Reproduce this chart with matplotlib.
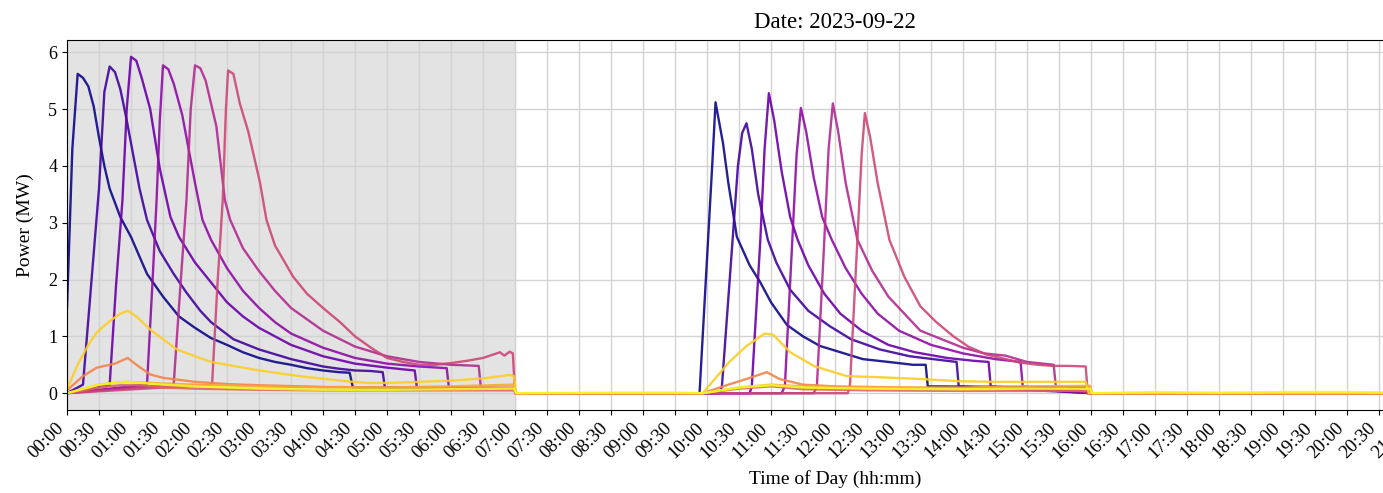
import numpy as np
import pandas as pd
import matplotlib
matplotlib.use("Agg")
import matplotlib.pyplot as plt
import matplotlib.dates as mdates

plt.rcParams['font.family'] = ['Liberation Serif', 'DejaVu Serif']

# --- datos (hora "HH:MM", potencia en MW) ---
fecha = "2023-09-22"

times_0 = ["00:00", "00:05", "00:10", "00:15", "00:20", "00:25", "00:30", "00:35", "00:40", "00:50",
           "01:00", "01:15", "01:30", "01:45", "02:00", "02:15", "02:30", "02:45", "03:00", "03:15",
           "03:30", "03:45", "04:00", "04:15", "04:25", "04:28", "05:30", "06:30", "06:59", "07:01",
           "09:53", "10:01", "10:05", "10:08", "10:15", "10:20", "10:28", "10:40", "10:50", "11:00",
           "11:15", "11:30", "11:46", "12:00", "12:26", "12:50", "13:13", "13:25", "13:27", "15:58",
           "16:00", "24:00"]
power_0 = [1.5, 4.3, 5.62, 5.55, 5.4, 5.05, 4.5, 4.0, 3.6, 3.1,
           2.75, 2.1, 1.7, 1.35, 1.15, 0.97, 0.85, 0.72, 0.62, 0.55,
           0.5, 0.44, 0.4, 0.37, 0.36, 0.1, 0.09, 0.08, 0.08, 0.0,
           0.0, 2.7, 4.05, 5.12, 4.4, 3.7, 2.75, 2.25, 1.95, 1.6,
           1.2, 1.0, 0.83, 0.75, 0.6, 0.55, 0.5, 0.5, 0.12, 0.1,
           0.0, 0.0]

times_1 = ["00:00", "00:15", "00:20", "00:25", "00:30", "00:35", "00:40", "00:45", "00:50", "00:55",
           "01:00", "01:08", "01:15", "01:27", "01:40", "01:52", "02:05", "02:15", "02:36", "03:00",
           "03:30", "04:00", "04:15", "04:30", "04:45", "04:56", "04:58", "06:59", "07:01", "10:12",
           "10:14", "10:24", "10:29", "10:33", "10:37", "10:42", "10:48", "10:57", "11:05", "11:18",
           "11:35", "11:55", "12:15", "12:42", "13:10", "13:45", "13:54", "13:56", "16:00", "24:00"]
power_1 = [0.0, 0.15, 1.3, 2.45, 3.6, 5.3, 5.75, 5.65, 5.35, 4.9,
           4.4, 3.6, 3.05, 2.5, 2.1, 1.77, 1.45, 1.25, 0.95, 0.77,
           0.6, 0.47, 0.43, 0.4, 0.39, 0.37, 0.1, 0.08, 0.0, 0.0,
           0.12, 2.7, 4.0, 4.58, 4.75, 4.3, 3.5, 2.7, 2.3, 1.82,
           1.45, 1.18, 0.95, 0.77, 0.65, 0.57, 0.55, 0.12, 0.0, 0.0]

times_2 = ["00:00", "00:40", "00:46", "00:52", "00:56", "01:00", "01:05", "01:10", "01:18", "01:27",
           "01:37", "01:45", "02:00", "02:15", "02:30", "02:45", "03:00", "03:30", "04:00", "04:30",
           "05:00", "05:15", "05:26", "05:28", "06:59", "07:01", "10:40", "10:42", "10:50", "10:54",
           "10:58", "11:03", "11:10", "11:18", "11:25", "11:35", "11:50", "12:05", "12:25", "12:50",
           "13:15", "13:45", "14:10", "14:24", "14:26", "16:00", "24:00"]
power_2 = [0.0, 0.15, 1.9, 3.4, 5.0, 5.92, 5.85, 5.55, 5.0, 3.95,
           3.1, 2.75, 2.3, 1.95, 1.6, 1.35, 1.15, 0.85, 0.65, 0.52,
           0.45, 0.42, 0.4, 0.1, 0.08, 0.0, 0.0, 0.12, 2.7, 4.3,
           5.28, 4.8, 3.9, 3.1, 2.7, 2.25, 1.75, 1.4, 1.1, 0.85,
           0.72, 0.62, 0.57, 0.55, 0.12, 0.0, 0.0]

times_3 = ["00:00", "01:15", "01:20", "01:24", "01:27", "01:30", "01:35", "01:40", "01:48", "01:55",
           "02:00", "02:07", "02:15", "02:30", "02:45", "03:00", "03:15", "03:30", "04:00", "04:30",
           "05:00", "05:30", "05:56", "05:58", "06:59", "07:01", "11:10", "11:13", "11:20", "11:24",
           "11:28", "11:33", "11:40", "11:48", "11:57", "12:10", "12:25", "12:40", "13:00", "13:30",
           "14:00", "14:30", "14:54", "14:56", "16:00", "24:00"]
power_3 = [0.0, 0.15, 1.9, 3.4, 4.8, 5.77, 5.7, 5.45, 4.9, 4.2,
           3.7, 3.05, 2.7, 2.2, 1.8, 1.5, 1.25, 1.05, 0.8, 0.62,
           0.52, 0.47, 0.44, 0.1, 0.08, 0.0, 0.0, 0.12, 2.7, 4.2,
           5.02, 4.6, 3.8, 3.1, 2.7, 2.2, 1.75, 1.4, 1.1, 0.85,
           0.7, 0.6, 0.55, 0.12, 0.0, 0.0]

times_4 = ["00:00", "01:40", "01:46", "01:52", "01:56", "02:00", "02:05", "02:10", "02:20", "02:28",
           "02:33", "02:45", "03:00", "03:15", "03:30", "04:00", "04:30", "05:00", "05:30", "06:00",
           "06:26", "06:28", "06:59", "07:01", "11:40", "11:43", "11:50", "11:54", "11:58", "12:03",
           "12:10", "12:21", "12:35", "12:50", "13:05", "13:20", "13:40", "14:00", "14:20", "14:40",
           "15:00", "15:25", "15:27", "16:00", "24:00"]
power_4 = [0.0, 0.15, 1.8, 3.4, 5.0, 5.77, 5.72, 5.5, 4.7, 3.4,
           3.05, 2.55, 2.15, 1.8, 1.5, 1.1, 0.82, 0.65, 0.55, 0.5,
           0.48, 0.1, 0.08, 0.0, 0.0, 0.12, 2.7, 4.3, 5.1, 4.6,
           3.7, 2.7, 2.15, 1.7, 1.4, 1.1, 0.95, 0.8, 0.7, 0.66,
           0.55, 0.5, 0.12, 0.0, 0.0]

times_5 = ["00:00", "02:16", "02:21", "02:26", "02:29", "02:31", "02:36", "02:42", "02:50", "03:01",
           "03:07", "03:15", "03:32", "03:45", "04:00", "04:16", "04:30", "04:45", "05:00", "05:15",
           "05:30", "05:45", "06:00", "06:15", "06:30", "06:46", "06:50", "06:55", "06:58", "07:00",
           "12:12", "12:14", "12:21", "12:25", "12:28", "12:33", "12:40", "12:51", "13:05", "13:20",
           "13:35", "13:51", "14:05", "14:22", "14:40", "14:53", "15:10", "15:24", "15:40", "15:55",
           "15:57", "24:00"]
power_5 = [0.0, 0.15, 1.9, 3.4, 5.0, 5.68, 5.62, 5.1, 4.6, 3.7,
           3.05, 2.6, 2.05, 1.75, 1.5, 1.25, 1.0, 0.8, 0.62, 0.55,
           0.5, 0.5, 0.53, 0.57, 0.62, 0.72, 0.66, 0.73, 0.7, 0.0,
           0.0, 0.12, 2.7, 4.2, 4.93, 4.5, 3.7, 2.7, 2.05, 1.53,
           1.25, 1.0, 0.82, 0.68, 0.6, 0.54, 0.5, 0.48, 0.48, 0.47,
           0.0, 0.0]

times_6 = ["00:00", "00:30", "00:50", "01:10", "01:30", "02:00", "03:00", "04:00", "05:00", "06:00",
           "06:59", "07:01", "09:56", "10:30", "11:00", "11:30", "12:30", "14:00", "15:59", "16:01",
           "24:00"]
power_6 = [0.0, 0.1, 0.14, 0.14, 0.1, 0.08, 0.06, 0.05, 0.05, 0.05,
           0.05, 0.0, 0.0, 0.08, 0.12, 0.07, 0.05, 0.04, 0.04, 0.0,
           0.0]

times_7 = ["00:00", "00:15", "00:28", "00:45", "00:57", "01:05", "01:18", "01:30", "02:00", "02:30",
           "03:00", "04:00", "05:00", "06:00", "06:59", "07:01", "09:56", "10:20", "10:37", "10:56",
           "11:08", "11:30", "12:00", "13:00", "14:00", "15:00", "15:59", "16:01", "24:00"]
power_7 = [0.05, 0.3, 0.45, 0.52, 0.62, 0.5, 0.33, 0.27, 0.2, 0.16,
           0.14, 0.11, 0.1, 0.1, 0.1, 0.0, 0.0, 0.15, 0.25, 0.37,
           0.25, 0.15, 0.12, 0.1, 0.08, 0.08, 0.08, 0.0, 0.0]

times_8 = ["00:00", "00:30", "00:55", "01:30", "02:00", "03:00", "04:00", "05:00", "06:00", "06:59",
           "07:01", "09:56", "10:30", "11:00", "11:30", "12:30", "14:00", "15:00", "15:59", "16:01",
           "24:00"]
power_8 = [0.0, 0.15, 0.2, 0.17, 0.15, 0.12, 0.1, 0.1, 0.12, 0.15,
           0.0, 0.0, 0.1, 0.15, 0.12, 0.1, 0.1, 0.12, 0.13, 0.0,
           0.0]

times_9 = ["00:00", "00:10", "00:20", "00:28", "00:40", "00:50", "00:57", "01:05", "01:18", "01:30",
           "01:43", "02:00", "02:15", "02:36", "03:00", "03:38", "04:16", "04:41", "05:00", "05:30",
           "06:00", "06:30", "06:55", "06:59", "07:01", "09:56", "10:05", "10:21", "10:37", "10:54",
           "11:02", "11:18", "11:40", "12:11", "12:42", "13:20", "13:57", "14:30", "15:00", "15:30",
           "15:55", "15:58", "24:00"]
power_9 = [0.07, 0.5, 0.85, 1.07, 1.27, 1.4, 1.45, 1.35, 1.12, 0.95,
           0.77, 0.65, 0.55, 0.48, 0.4, 0.3, 0.22, 0.18, 0.18, 0.2,
           0.22, 0.26, 0.32, 0.3, 0.0, 0.0, 0.2, 0.55, 0.83, 1.05,
           1.03, 0.72, 0.48, 0.3, 0.28, 0.25, 0.21, 0.2, 0.2, 0.2,
           0.2, 0.0, 0.0]

times_10 = ["00:00", "00:30", "00:55", "01:30", "02:00", "03:00", "04:00", "05:00", "06:00", "06:59",
            "07:01", "08:30", "09:30", "09:56", "10:30", "11:00", "11:30", "12:30", "14:00", "15:00",
            "15:59", "16:01", "17:00", "18:00", "19:00", "20:00", "21:00", "22:00", "23:00", "24:00"]
power_10 = [0.0, 0.15, 0.2, 0.15, 0.12, 0.08, 0.06, 0.06, 0.07, 0.08,
            0.0, 0.01, 0.01, 0.0, 0.1, 0.14, 0.1, 0.08, 0.07, 0.08,
            0.08, 0.0, 0.02, 0.01, 0.02, 0.02, 0.01, 0.02, 0.01, 0.02]

series_times = [times_0, times_1, times_2, times_3, times_4, times_5,
                times_6, times_7, times_8, times_9, times_10]
series_power = [power_0, power_1, power_2, power_3, power_4, power_5,
                power_6, power_7, power_8, power_9, power_10]

base = pd.Timestamp(fecha)


def a_fecha(horas):
    return base + pd.to_timedelta([h + ":00" for h in horas])


# --- figura ---
fig = plt.figure(figsize=(13.83, 4.93), dpi=100)
# el eje llega hasta las 24:00, pero la imagen queda cortada a la derecha
ax = fig.add_axes([67 / 1383, 83 / 493, 1536 / 1383, 370 / 493])

colores = plt.cm.plasma(np.linspace(0, 1, len(series_power)))
for tt, pp, c in zip(series_times, series_power, colores):
    ax.plot(a_fecha(tt), pp, color=c, lw=1.7, alpha=0.9)

# zona nocturna sombreada
ax.axvspan(a_fecha(["00:00"])[0], a_fecha(["07:00"])[0], color='#e3e3e3', zorder=0)

ax.set_xlim(base, base + pd.Timedelta(days=1))
ax.xaxis.set_major_locator(mdates.MinuteLocator(byminute=[0, 30]))
ax.xaxis.set_major_formatter(mdates.DateFormatter('%H:%M'))
ax.set_axisbelow(True)
ax.grid(True, color='#d3d3d3', lw=1.0)

ax.tick_params(axis='x', labelrotation=45, labelsize=13.5)
ax.tick_params(axis='y', labelsize=13)
for lab in ax.get_xticklabels():
    lab.set_ha('right')

ax.set_title("Date: " + fecha, fontsize=16.5, pad=9)
ax.set_xlabel("Time of Day (hh:mm)", fontsize=14, labelpad=6)
ax.set_ylabel("Power (MW)", fontsize=14, labelpad=10)

fig.savefig("out.png", dpi=100)
